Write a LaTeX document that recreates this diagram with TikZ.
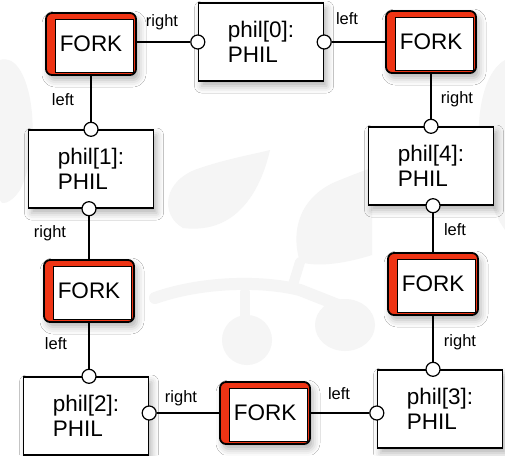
\documentclass[tikz,border=0pt]{standalone}
\usepackage{fontspec}
\setmainfont{Liberation Sans}
\usetikzlibrary{shadows.blur}

\definecolor{forkred}{RGB}{238,52,20}
\definecolor{leafgray}{RGB}{245,245,245}

\tikzset{
  phil/.style={draw, line width=1.4pt, fill=white, inner sep=0pt,
    minimum width=125pt, minimum height=78pt, align=left,
    font=\fontsize{22.5}{25}\selectfont,
    blur shadow={shadow xshift=3pt, shadow yshift=-5pt,
      shadow blur radius=7pt, shadow opacity=30}},
  fork/.style={draw, line width=1.8pt, fill=forkred, rounded corners=6pt,
    minimum width=90pt, minimum height=62pt,
    font=\fontsize{22.5}{22}\selectfont,
    blur shadow={shadow xshift=3pt, shadow yshift=-5pt,
      shadow blur radius=7pt, shadow opacity=30},
    path picture={\filldraw[white, sharp corners, line width=0.8pt]
      ([xshift=9pt,yshift=-6pt]path picture bounding box.north west) rectangle
      ([xshift=-3pt,yshift=3pt]path picture bounding box.south east);
      \draw[black, sharp corners, line width=0.8pt]
      ([xshift=9pt,yshift=-6pt]path picture bounding box.north west) rectangle
      ([xshift=-3pt,yshift=3pt]path picture bounding box.south east);}},
  port/.style={circle, draw, line width=1.2pt, fill=white,
    minimum size=14pt, inner sep=0pt},
  link/.style={line width=1.2pt},
  lbl/.style={font=\fontsize{16.5}{16}\selectfont, inner sep=0pt}
}

\begin{document}
\begin{tikzpicture}[x=1pt, y=-1pt]
  \useasboundingbox (0,0) rectangle (505,455);
  \fill[white] (0,0) rectangle (505,455);

  % leaves in the back
  \fill[leafgray] (183,228) .. controls (160,215) and (162,180) .. (200,168)
    .. controls (230,158) and (255,154) .. (270,150)
    .. controls (262,185) and (240,235) .. (183,228);
  \fill[leafgray] (300,262) .. controls (290,230) and (300,195) .. (340,180)
    .. controls (355,174) and (365,170) .. (372,168) -- (372,255)
    .. controls (350,262) and (320,268) .. (300,262);
  \draw[leafgray, line width=12pt, line cap=round]
    (155,298) .. controls (200,282) and (260,280) .. (300,290) -- (338,305);
  \draw[leafgray, line width=10pt, line cap=round] (300,262) -- (292,288);
  \draw[leafgray, line width=10pt, line cap=round] (245,292) -- (245,318);
  \fill[leafgray] (247,340) circle (25);
  \fill[leafgray] (345,325) ellipse (30 and 26);
  \fill[leafgray] (0,60) .. controls (30,50) and (45,140) .. (20,190)
    .. controls (10,205) and (0,205) .. (0,200) -- cycle;
  \fill[leafgray] (505,60) .. controls (470,80) and (470,180) .. (505,230) -- cycle;

  % forks and philosophers
  \node[fork] (fork0) at (91,44) {FORK};
  \node[phil] (phil0) at (261,42) {phil[0]:\\PHIL};
  \node[fork] (fork1) at (431,42) {FORK};
  \node[phil] (phil4) at (431,166) {phil[4]:\\PHIL};
  \node[fork] (fork2) at (433,284) {FORK};
  \node[phil] (phil3) at (440,409) {phil[3]:\\PHIL};
  \node[fork] (fork3) at (265,413) {FORK};
  \node[phil] (phil2) at (86,416) {phil[2]:\\PHIL};
  \node[fork] (fork4) at (89,291) {FORK};
  \node[phil] (phil1) at (91,169) {phil[1]:\\PHIL};

  % ports
  \node[port] (p0l) at (phil0.west) {};
  \node[port] (p0r) at (phil0.east) {};
  \node[port] (p4t) at (fork1 |- phil4.north) {};
  \node[port] (p4b) at (fork2 |- phil4.south) {};
  \node[port] (p3t) at (fork2 |- phil3.north) {};
  \node[port] (p3l) at (phil3.west |- fork3) {};
  \node[port] (p2r) at (phil2.east |- fork3) {};
  \node[port] (p2t) at (fork4 |- phil2.north) {};
  \node[port] (p1b) at (fork4 |- phil1.south) {};
  \node[port] (p1t) at (fork0 |- phil1.north) {};

  % links
  \draw[link] (fork0.east |- p0l) -- (p0l);
  \draw[link] (p0r) -- (p0r -| fork1.west);
  \draw[link] (fork1) -- (p4t);
  \draw[link] (p4b) -- (fork2);
  \draw[link] (fork2) -- (p3t);
  \draw[link] (fork3) -- (p3l);
  \draw[link] (p2r) -- (fork3);
  \draw[link] (fork4) -- (p2t);
  \draw[link] (p1b) -- (fork4);
  \draw[link] (fork0) -- (p1t);

  % link names
  \node[lbl] (l0) at (162,22) {right};
  \node[lbl] (l1) at (347,19) {left};
  \node[lbl] (l2) at (457,99) {right};
  \node[lbl] (l3) at (455,230) {left};
  \node[lbl] (l4) at (460,342) {right};
  \node[lbl] (l5) at (339,394) {left};
  \node[lbl] (l6) at (181,398) {right};
  \node[lbl] (l7) at (56,344) {left};
  \node[lbl] (l8) at (50,233) {right};
  \node[lbl] (l9) at (63,100) {left};
\end{tikzpicture}
\end{document}
